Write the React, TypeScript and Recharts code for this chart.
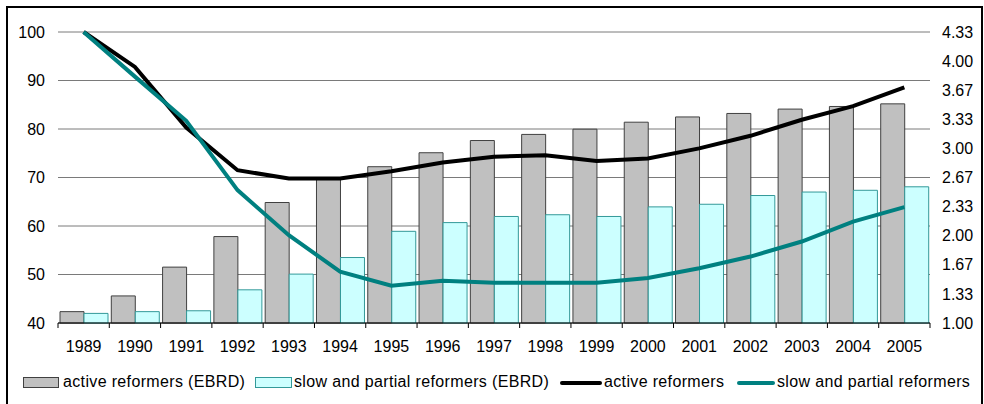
import {
  ComposedChart,
  Bar,
  Line,
  XAxis,
  YAxis,
  CartesianGrid,
} from 'recharts';

// years on the category axis
const YEARS = [
  '1989', '1990', '1991', '1992', '1993', '1994', '1995', '1996', '1997',
  '1998', '1999', '2000', '2001', '2002', '2003', '2004', '2005',
];

// EBRD transition indicator averages (right axis, 1.00 - 4.33)
const ACTIVE_EBRD = [1.13, 1.31, 1.64, 1.99, 2.38, 2.65, 2.79, 2.95, 3.09, 3.16, 3.22, 3.3, 3.36, 3.4, 3.45, 3.48, 3.51];
const SLOW_EBRD = [1.11, 1.13, 1.14, 1.38, 1.56, 1.75, 2.05, 2.15, 2.22, 2.24, 2.22, 2.33, 2.36, 2.46, 2.5, 2.52, 2.56];

// output index, 1989 = 100 (left axis)
const ACTIVE_INDEX = [100, 92.8, 80.3, 71.5, 69.8, 69.8, 71.3, 73.1, 74.3, 74.6, 73.4, 73.9, 76.0, 78.6, 81.9, 84.7, 88.6];
const SLOW_INDEX = [100, 90.8, 81.7, 67.4, 58.1, 50.6, 47.7, 48.7, 48.3, 48.3, 48.3, 49.3, 51.3, 53.7, 56.8, 60.9, 63.9];

const LEFT_TICKS = [40, 50, 60, 70, 80, 90, 100];
const RIGHT_TICKS = [1.0, 1.333, 1.667, 2.0, 2.333, 2.667, 3.0, 3.333, 3.667, 4.0, 4.333];

const NAMES = {
  activeEbrd: 'active reformers (EBRD)',
  slowEbrd: 'slow and partial reformers (EBRD)',
  active: 'active reformers',
  slow: 'slow and partial reformers',
};

const data = YEARS.map((year, i) => ({
  year,
  activeEbrd: ACTIVE_EBRD[i],
  slowEbrd: SLOW_EBRD[i],
  active: ACTIVE_INDEX[i],
  slow: SLOW_INDEX[i],
}));

const FONT = '"Liberation Sans", Arial, sans-serif';
const tickStyle = { fontSize: 16, fill: '#000', fontFamily: FONT };

// year label plus the small tick marks on the category boundaries
const YearTick = (props: any) => {
  const { x, y, payload, index } = props;
  const half = payload?.offset ?? 872 / 17 / 2;
  return (
    <g>
      <line x1={x - half} x2={x - half} y1={y} y2={y + 5} stroke="#000" />
      {index === YEARS.length - 1 && (
        <line x1={x + half} x2={x + half} y1={y} y2={y + 5} stroke="#000" />
      )}
      <text x={x} y={y + 29} textAnchor="middle" {...tickStyle}>
        {payload.value}
      </text>
    </g>
  );
};

const legendItems = [
  { name: NAMES.activeEbrd, kind: 'box', fill: '#c0c0c0', stroke: '#404040', left: 23, sw: 36, textLeft: 63 },
  { name: NAMES.slowEbrd, kind: 'box', fill: '#ccffff', stroke: '#339999', left: 255, sw: 37, textLeft: 294 },
  { name: NAMES.active, kind: 'line', fill: '#000000', stroke: '#000000', left: 560, sw: 42, textLeft: 604 },
  { name: NAMES.slow, kind: 'line', fill: '#008080', stroke: '#008080', left: 737, sw: 38, textLeft: 777 },
];

const ChartLegend = () => (
  <div
    style={{
      position: 'absolute',
      left: 0,
      top: 372,
      width: 984,
      height: 22,
      fontFamily: FONT,
      fontSize: 16,
      letterSpacing: '0.35px',
    }}
  >
    {legendItems.map((it) => (
      <div key={it.name}>
        <svg
          width={it.sw}
          height={12}
          style={{ position: 'absolute', left: it.left, top: 5 }}
        >
          {it.kind === 'box' ? (
            <rect x={0.5} y={0.5} width={it.sw - 1} height={10} fill={it.fill} stroke={it.stroke} />
          ) : (
            <line x1={2} x2={it.sw - 2} y1={6} y2={6} stroke={it.stroke} strokeWidth={4} strokeLinecap="round" />
          )}
        </svg>
        <span
          style={{
            position: 'absolute',
            left: it.textLeft,
            top: 0,
            lineHeight: '20px',
            whiteSpace: 'nowrap',
            color: '#000',
          }}
        >
          {it.name}
        </span>
      </div>
    ))}
  </div>
);

export default function App() {
  return (
    <div
      style={{
        position: 'absolute',
        left: 0,
        top: 0,
        width: 984,
        height: 404,
        overflow: 'hidden',
        background: '#fff',
      }}
    >
      <div
        style={{
          position: 'absolute',
          left: 6,
          top: 6,
          width: 977,
          height: 420,
          border: '2px solid #000',
          boxSizing: 'border-box',
        }}
      />
      <div style={{ position: 'absolute', left: 0, top: 0 }}>
        <ComposedChart
          width={984}
          height={404}
          data={data}
          margin={{ top: 32, right: 0, bottom: 51, left: 0 }}
          barCategoryGap={2}
          barGap={0}
        >
          <CartesianGrid yAxisId="left" vertical={false} stroke="#7a7a7a" />
          <XAxis
            dataKey="year"
            height={30}
            tickLine={false}
            tickSize={0}
            tickMargin={0}
            axisLine={{ stroke: '#000' }}
            tick={<YearTick />}
            interval={0}
          />
          <YAxis
            yAxisId="left"
            width={58}
            domain={[40, 100]}
            ticks={LEFT_TICKS}
            axisLine={false}
            tickLine={false}
            tickMargin={7}
            tick={tickStyle}
          />
          <YAxis
            yAxisId="right"
            orientation="right"
            width={54}
            domain={[1, 4.333]}
            ticks={RIGHT_TICKS}
            axisLine={false}
            tickLine={false}
            tickMargin={6}
            tick={tickStyle}
            tickFormatter={(v: number) => v.toFixed(2)}
          />
          <Bar
            yAxisId="right"
            dataKey="activeEbrd"
            name={NAMES.activeEbrd}
            fill="#c0c0c0"
            stroke="#404040"
            strokeWidth={1}
            isAnimationActive={false}
          />
          <Bar
            yAxisId="right"
            dataKey="slowEbrd"
            name={NAMES.slowEbrd}
            fill="#ccffff"
            stroke="#339999"
            strokeWidth={1}
            isAnimationActive={false}
          />
          <Line
            yAxisId="left"
            type="linear"
            dataKey="active"
            name={NAMES.active}
            stroke="#000000"
            strokeWidth={4}
            dot={false}
            isAnimationActive={false}
          />
          <Line
            yAxisId="left"
            type="linear"
            dataKey="slow"
            name={NAMES.slow}
            stroke="#008080"
            strokeWidth={4}
            dot={false}
            isAnimationActive={false}
          />
        </ComposedChart>
      </div>
      <ChartLegend />
    </div>
  );
}
